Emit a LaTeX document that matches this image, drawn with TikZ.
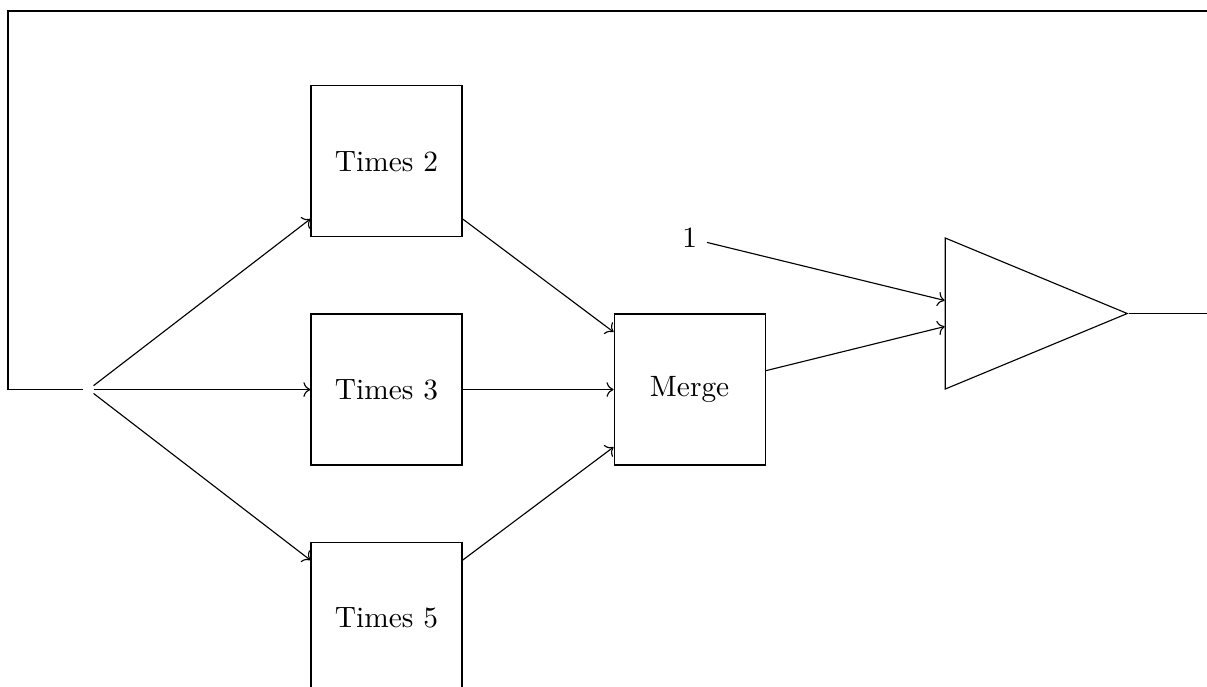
\documentclass[tikz,border=0pt]{standalone}
\usetikzlibrary{shapes.geometric, arrows.meta, positioning}

\begin{document}
\begin{tikzpicture}[auto, node distance=0.945cm, >=To, every node/.style={font=\fontsize{10.4pt}{12.5pt}\selectfont}]
    % Define the styles
    \tikzset{
        block/.style = {draw, rectangle, minimum size=1.877cm, inner sep=0pt, align=center},
        adder/.style = {draw, isosceles triangle, isosceles triangle stretches, shape border rotate=0, minimum width=1.877cm, minimum height=2.262cm, inner sep=0pt},
        line/.style = {draw, ->},
    }

    % Page frame (the picture is cut at the right and bottom)
    \useasboundingbox (0,0) rectangle (15.003,-8.539);
    \clip (0,0) rectangle (15.003,-8.539);

    % Nodes placement
    \node [block] (times3) at (4.804,-4.842) {Times 3};
    \node [block, above=of times3] (times2) {Times 2};
    \node [block, below=of times3] (times5) {Times 5};
    \node [block, right=1.877cm of times3] (merge) {Merge};
    \node [above=0.69cm of merge] (one) {1};
    \node [adder, right=2.225cm of merge, yshift=0.945cm] (sum) {};
    \node [inner sep=1.6pt] (split) at (1.100,-4.842) {};

    % Feedback corners
    \coordinate (loopr) at (15.3,-0.137);
    \coordinate (loopl) at (0.099,-0.137);

    % Connecting lines
    \draw [line] (split) -- ([yshift=-0.715cm]times2.west);
    \draw [line] (split) -- (times3);
    \draw [line] (split) -- ([yshift=0.715cm]times5.west);
    \draw [line] ([yshift=-0.715cm]times2.east) -- ([yshift=0.715cm]merge.west);
    \draw [line] (times3) -- (merge);
    \draw [line] ([yshift=0.715cm]times5.east) -- ([yshift=-0.715cm]merge.west);
    \draw [line] (one) -- ([yshift=0.162cm]sum.west);
    \draw [line] ([yshift=0.234cm]merge.east) -- ([yshift=-0.162cm]sum.west);

    % Feedback loop
    \draw (sum.apex) -| (loopr) -- (loopl) |- (split);

\end{tikzpicture}
\end{document}
